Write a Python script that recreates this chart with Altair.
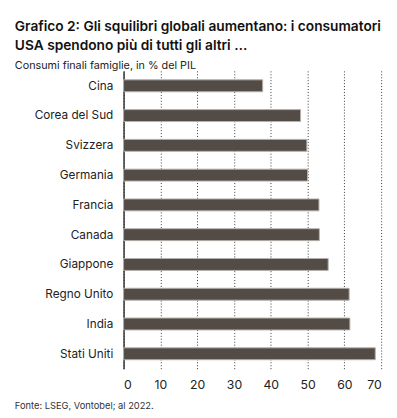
import altair as alt
import pandas as pd

countries = ["Cina", "Corea del Sud", "Svizzera", "Germania", "Francia",
             "Canada", "Giappone", "Regno Unito", "India", "Stati Uniti"]
values = [37.8, 48.1, 49.8, 50.0, 53.1, 53.2, 55.6, 61.3, 61.5, 68.4]
x_ticks = [0, 10, 20, 30, 40, 50, 60, 70]

df = pd.DataFrame({"paese": countries, "valore": values})

W, H = 263, 304
FONT = "Inter"

bars = alt.Chart(df).mark_bar(
    color="#534b46", stroke="#b5b0ac", strokeWidth=1
).encode(
    x=alt.X("valore:Q", scale=alt.Scale(domain=[0, 70], nice=False),
            axis=alt.Axis(values=x_ticks, title=None, grid=True, gridDash=[1, 2],
                          gridColor="#333333", gridWidth=1, domain=False, ticks=False,
                          labelFontSize=12.5, labelColor="#222222", labelPadding=10,
                          labelFont=FONT)),
    y=alt.Y("paese:N", sort=countries,
            scale=alt.Scale(paddingInner=0.6, paddingOuter=0.3),
            axis=alt.Axis(title=None, ticks=False, domain=True, domainColor="#333333",
                          domainWidth=1.5, labelFontSize=12, labelColor="#222222",
                          labelPadding=11, labelFont=FONT, grid=False)),
)

footer = alt.Chart(pd.DataFrame({"t": ["Fonte: LSEG, Vontobel; al 2022."]})).mark_text(
    align="left", baseline="middle", fontSize=9.5, font=FONT, color="#333333"
).encode(text="t:N", x=alt.value(-111), y=alt.value(H + 38))

chart = alt.layer(bars, footer).properties(
    width=W, height=H,
    title=alt.TitleParams(
        text=["Grafico 2: Gli squilibri globali aumentano: i consumatori",
              "USA spendono più di tutti gli altri …"],
        subtitle="Consumi finali famiglie, in % del PIL",
        anchor="start", frame="group", dx=-111, offset=0,
        font=FONT, fontSize=14, fontWeight=600, color="#111111", lineHeight=20,
        subtitleFont=FONT, subtitleFontSize=11, subtitleColor="#222222",
        subtitlePadding=7,
    ),
    autosize=alt.AutoSizeParams(type="none"),
    padding={"left": 118, "top": 60, "right": 8, "bottom": 39},
).configure_view(stroke=None)

chart.save("out.html", embed_options={"renderer": "svg", "actions": False})
